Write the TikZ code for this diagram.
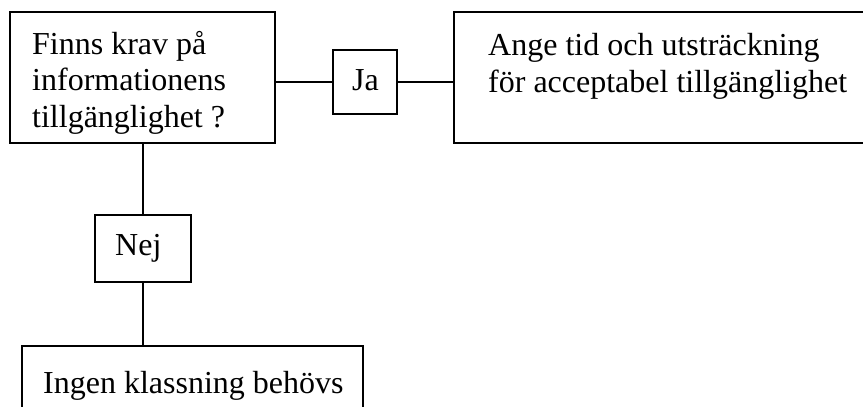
\documentclass[tikz,border=0pt]{standalone}
\usepackage{fontspec}
\setmainfont{Liberation Serif}
\begin{document}
\begin{tikzpicture}[x=1pt,y=-1pt,
  box/.style={draw=black,line width=1.4pt,inner sep=0pt,minimum width=#1},
  txt/.style={anchor=base west,inner sep=0pt,font=\fontsize{32}{36}\selectfont},
  conn/.style={draw=black,line width=1.4pt}]
\useasboundingbox (0,0) rectangle (863,407);
\node[box=265pt,minimum height=131pt] (b1) at (142.5,77.5) {};
\node[box=64pt,minimum height=64pt] (ja) at (365,82) {};
\node[box=421pt,minimum height=131pt] (b2) at (664.5,77.5) {};
\node[box=96pt,minimum height=67pt] (nej) at (143,248.5) {};
\node[box=341pt,minimum height=80pt] (b3) at (192.5,386) {};
\node[txt] (t1) at (32,54) {Finns krav på};
\node[txt] (t2) at (32,90) {informationens};
\node[txt] (t3) at (32,127) {tillgänglighet ?};
\node[txt] (tja) at (352,90) {Ja};
\node[txt] (t4) at (488,55) {Ange tid och utsträckning};
\node[txt] (t5) at (488,92) {för acceptabel tillgänglighet};
\node[txt] (tnej) at (115,255) {Nej};
\node[txt] (t6) at (43,393) {Ingen klassning behövs};
\draw[conn] (ja.west) -- (ja.west -| b1.east);
\draw[conn] (ja.east) -- (ja.east -| b2.west);
\draw[conn] (nej.north) -- (nej.north |- b1.south);
\draw[conn] (nej.south) -- (nej.south |- b3.north);
\end{tikzpicture}
\end{document}
